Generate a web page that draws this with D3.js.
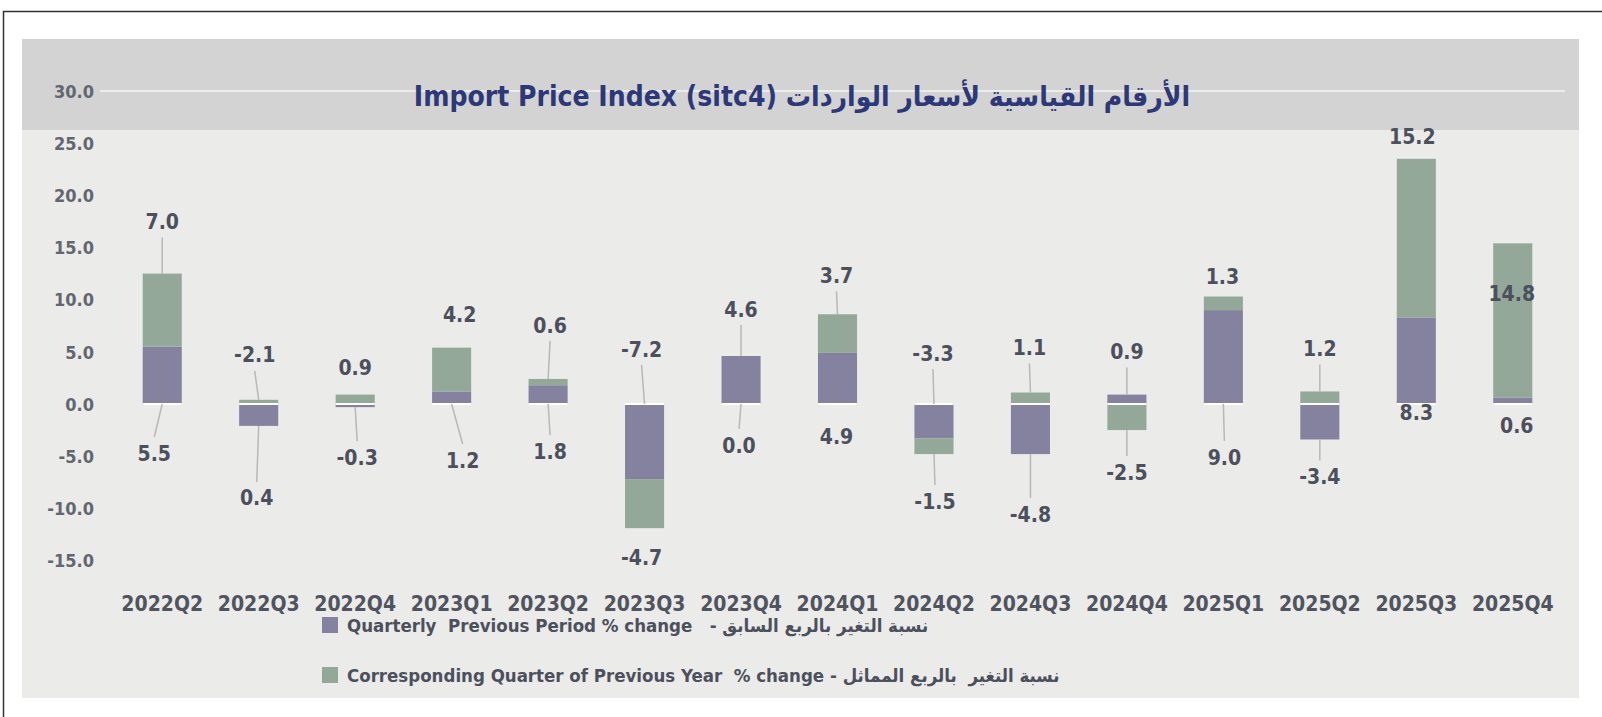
<!DOCTYPE html>
<html>
<head>
<meta charset="utf-8">
<script src="https://cdn.jsdelivr.net/npm/d3@7"></script>
<style>
  html, body { margin: 0; padding: 0; background: #ffffff; }
  svg { display: block; }
  text { white-space: pre; }
</style>
</head>
<body>
<svg id="chart" width="1602" height="717"></svg>
<script>
// ---------------- data ----------------
const categories = ["2022Q2","2022Q3","2022Q4","2023Q1","2023Q2","2023Q3","2023Q4","2024Q1","2024Q2","2024Q3","2024Q4","2025Q1","2025Q2","2025Q3","2025Q4"];
const quarterlyChange = [5.5, -2.1, -0.3, 1.2, 1.8, -7.2, 4.6, 4.9, -3.3, -4.8, 0.9, 9.0, -3.4, 8.3, 0.6];
const yearlyChange    = [7.0,  0.4,  0.9, 4.2, 0.6, -4.7, 0.0, 3.7, -1.5,  1.1, -2.5, 1.3, 1.2, 15.2, 14.8];
const yTicks = [30, 25, 20, 15, 10, 5, 0, -5, -10, -15];
const titleText = "Import Price Index (sitc4) الأرقام القياسية لأسعار الواردات";
const seriesNames = [
  "Quarterly  Previous Period % change   - نسبة التغير بالربع السابق",
  "Corresponding Quarter of Previous Year  % change - نسبة التغير  بالربع المماثل"
];

// ------------- label layout (annotation placement only) -------------
// which series' label sits above the bar ("y" = yearly, "q" = quarterly, "in" = yearly inside bar)
const topLabelSeries = ["y","q","y","y","y","q","q","y","q","y","q","y","y","y","in"];
const topLabelGap    = [52, 45, 27, 33, 54, 55, 47, 39, 51, 45, 43, 20, 43, 22, -50];
const bottomLabelGap = [49, 72, 50, 56, 47, 29, 41, 32, 47, 60, 42, 53, 37, 8, 21];
const topLabelDx     = [0, -4, 0, 8, 2, -3, 0, -1, -1, -1, 0, -1, 0, -4, -1];
const bottomLabelDx  = [-8, -2, 2, 11, 2, -3, -2, -1, 1, 0, 0, 1, 0, 0, 4];

// ---------------- setup ----------------
const svg = d3.select("#chart");
const W = 1602, H = 717;
const COL_Q = "#85829f", COL_Y = "#93a899";
const FONT = "'DejaVu Sans Condensed', 'DejaVu Sans', sans-serif";
const locale = d3.formatLocale({ decimal: ".", thousands: ",", grouping: [3], currency: ["", ""], minus: "-" });
const fmt = locale.format(".1f");

// background panels
svg.append("rect").attr("x", 0).attr("y", 0).attr("width", W).attr("height", H).attr("fill", "#ffffff");
svg.append("rect").attr("x", 22).attr("y", 39).attr("width", 1557).attr("height", 659).attr("fill", "#ebebea");
svg.append("rect").attr("x", 22).attr("y", 39).attr("width", 1557).attr("height", 91).attr("fill", "#d3d3d3");
// outer frame
svg.append("path").attr("d", `M3.5,${H} L3.5,11.5 L${W},11.5`).attr("fill", "none").attr("stroke", "#333").attr("stroke-width", 1.5);

// scales
const y = d3.scaleLinear().domain([-15, 30]).range([560.5, 91]);
const x = d3.scaleBand().domain(categories).range([114, 1561]).paddingInner(0.595).paddingOuter(0.2975);

// gridline at top tick
svg.append("line").attr("x1", 100).attr("x2", 1565).attr("y1", y(30)).attr("y2", y(30))
  .attr("stroke", "#f4f4f4").attr("stroke-width", 1.5);

// y axis
const yAxis = d3.axisLeft(y).tickValues(yTicks).tickFormat(fmt).tickSize(0).tickPadding(0);
const gy = svg.append("g").attr("transform", "translate(94,0)").call(yAxis);
gy.select(".domain").remove();
gy.selectAll("text").attr("font-family", FONT).attr("font-size", 18).attr("font-weight", "bold")
  .attr("fill", "#62666f").attr("dy", "0.35em");

// x axis
const xAxis = d3.axisBottom(x).tickSize(0).tickPadding(0);
const gx = svg.append("g").attr("transform", "translate(0,596)").call(xAxis);
gx.select(".domain").remove();
gx.selectAll("text").attr("font-family", FONT).attr("font-size", 21).attr("font-weight", "bold")
  .attr("fill", "#50545f").attr("dy", "0.72em");

// stacked bars
const rows = categories.map((c, i) => ({ cat: c, q: quarterlyChange[i], yr: yearlyChange[i] }));
const stack = d3.stack().keys(["q", "yr"]).offset(d3.stackOffsetDiverging);
const series = stack(rows);
const colors = { q: COL_Q, yr: COL_Y };

svg.append("g").selectAll("g").data(series).join("g")
  .attr("fill", d => colors[d.key])
  .selectAll("rect").data(d => d).join("rect")
  .attr("x", d => x(d.data.cat))
  .attr("width", x.bandwidth())
  .attr("y", d => y(Math.max(d[0], d[1])))
  .attr("height", d => Math.abs(y(d[0]) - y(d[1])));

// white zero line through bars
svg.append("g").selectAll("line").data(categories).join("line")
  .attr("x1", d => x(d)).attr("x2", d => x(d) + x.bandwidth())
  .attr("y1", y(0)).attr("y2", y(0))
  .attr("stroke", "#ffffff").attr("stroke-width", 2);

// data labels
const labels = [];
categories.forEach((c, i) => {
  const sQ = series[0][i], sY = series[1][i];
  const top = Math.max(sQ[0], sQ[1], sY[0], sY[1]);
  const bot = Math.min(sQ[0], sQ[1], sY[0], sY[1]);
  const cx = x(c) + x.bandwidth() / 2;
  const topSer = topLabelSeries[i];
  const topVal = topSer === "q" ? quarterlyChange[i] : yearlyChange[i];
  const botVal = topSer === "q" ? yearlyChange[i] : quarterlyChange[i];
  labels.push({ v: topVal, x: cx + topLabelDx[i], y: y(top) - topLabelGap[i], bx: cx, by: y(top), gap: topLabelGap[i], dir: -1 });
  labels.push({ v: botVal, x: cx + bottomLabelDx[i], y: y(bot) + bottomLabelGap[i], bx: cx, by: y(bot), gap: bottomLabelGap[i], dir: 1 });
});

// leader lines
svg.append("g").selectAll("line").data(labels.filter(d => d.gap > 34)).join("line")
  .attr("x1", d => d.bx).attr("y1", d => d.by)
  .attr("x2", d => d.x).attr("y2", d => d.y - d.dir * 16)
  .attr("stroke", "#b8b8b8").attr("stroke-width", 1.5);

svg.append("g").selectAll("text").data(labels).join("text")
  .attr("x", d => d.x).attr("y", d => d.y).attr("dy", "0.36em")
  .attr("text-anchor", "middle")
  .attr("font-family", FONT).attr("font-size", 21).attr("font-weight", "bold")
  .attr("fill", "#4b505c")
  .text(d => fmt(d.v));

// title
svg.append("text").attr("x", 802).attr("y", 96).attr("dy", "0.36em").attr("text-anchor", "middle")
  .attr("font-family", FONT).attr("font-size", 28).attr("font-weight", "bold").attr("fill", "#2c3877")
  .text(titleText);

// legend
const legend = svg.append("g").selectAll("g").data(seriesNames).join("g")
  .attr("transform", (d, i) => `translate(322,${617 + i * 50})`);
legend.append("rect").attr("width", 16).attr("height", 16).attr("fill", (d, i) => i === 0 ? COL_Q : COL_Y);
legend.append("text").attr("x", 25).attr("y", 8).attr("dy", "0.36em")
  .attr("font-family", FONT).attr("font-size", 18.5).attr("font-weight", "bold").attr("fill", "#4b505c")
  .text(d => d);
</script>
</body>
</html>
